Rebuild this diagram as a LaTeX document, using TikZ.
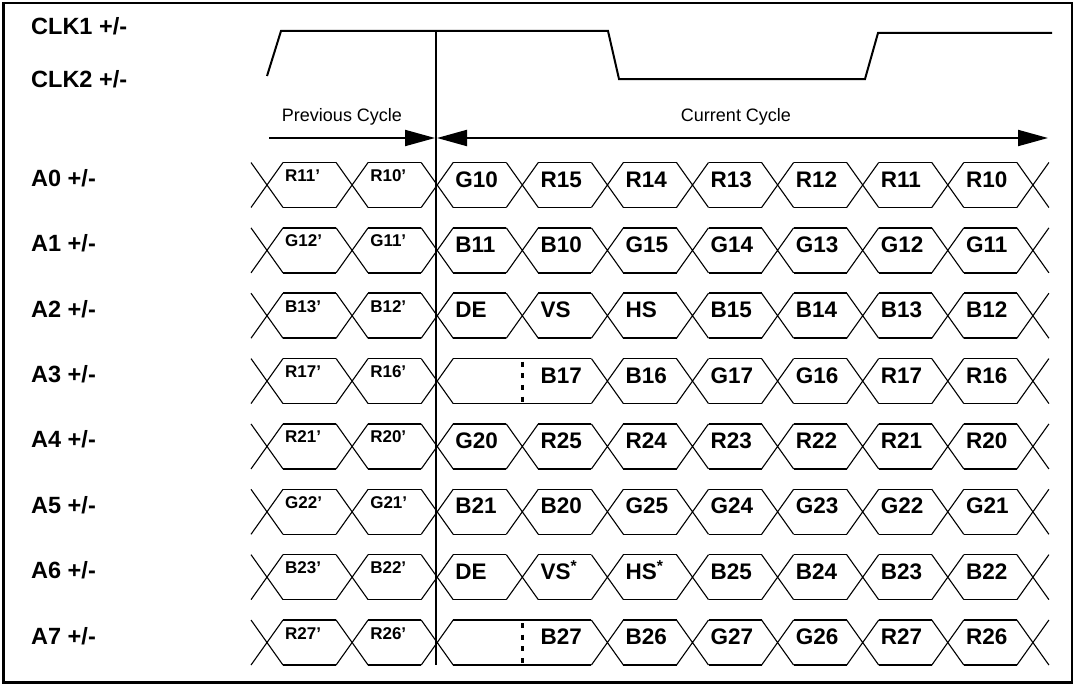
\documentclass[tikz,border=0pt]{standalone}
\usepackage{fontspec}
\setmainfont{Liberation Sans}
\usetikzlibrary{arrows.meta}
\begin{document}
\begin{tikzpicture}[x=1pt,y=-1pt,
  lbl/.style={font=\fontsize{23.5}{25}\selectfont\bfseries, inner sep=0pt, anchor=base west},
  big/.style={font=\fontsize{22.5}{24}\selectfont\bfseries, inner sep=0pt, anchor=base west},
  small/.style={font=\fontsize{17}{19}\selectfont\bfseries, inner sep=0pt, anchor=base west},
  cyc/.style={font=\fontsize{18}{20}\selectfont, inner sep=0pt, anchor=base},
  flat/.style={line width=1.6pt},
  cross/.style={line width=1.1pt},
  wave/.style={line width=2pt, line join=miter},
  dimline/.style={line width=2pt},
  dots/.style={line width=2.5pt, dash pattern=on 5pt off 6.7pt},
  tipa/.tip={Triangle[length=30pt,width=16pt]}
]
\useasboundingbox (0,0) rectangle (1076,685);
\draw[line width=2.2pt] (3.5,3) rectangle (1072,682.5);

% clock
\node[lbl] (clk1) at (31,35) {CLK1 +/-};
\node[lbl] (clk2) at (31,88) {CLK2 +/-};
\draw[wave] (267,76) -- (281,31) -- (608,31) -- (619,79) -- (865,79) -- (878,33) -- (1052,33);

% reference line
\coordinate (vtop) at (436,31);
\coordinate (vbot) at (436,665);
\draw[line width=1.1pt] (vtop) -- (vbot);

% cycle arrows
\coordinate (ps) at (269,138);
\coordinate (pe) at (435,138);
\coordinate (cs) at (437,138);
\coordinate (ce) at (1048,138);
\draw[dimline,-tipa] (ps) -- (pe);
\draw[dimline,tipa-tipa] (cs) -- (ce);
\node[cyc] (prev) at (342,121) {Previous Cycle};
\node[cyc] (cur) at (736,121) {Current Cycle};

% data rows
\foreach \i/\merge/\la/\lb/\lc/\ld/\le/\lf/\lg/\lh/\lj in {
  0/0/R11’/R10’/G10/R15/R14/R13/R12/R11/R10,
  1/0/G12’/G11’/B11/B10/G15/G14/G13/G12/G11,
  2/0/B13’/B12’/DE/VS/HS/B15/B14/B13/B12,
  3/1/R17’/R16’//B17/B16/G17/G16/R17/R16,
  4/0/R21’/R20’/G20/R25/R24/R23/R22/R21/R20,
  5/0/G22’/G21’/B21/B20/G25/G24/G23/G22/G21,
  6/0/B23’/B22’/DE/{VS\textsuperscript{*}}/{HS\textsuperscript{*}}/B25/B24/B23/B22,
  7/1/R27’/R26’//B27/B26/G27/G26/R27/R26} {
  \pgfmathsetmacro\cy{185+65.36*\i}
  \node[lbl] (lab\i) at (31,\cy+1.5) {A\i\ +/-};
  \foreach \k in {0,...,9} {
    \pgfmathtruncatemacro\skipit{\merge*(\k==3)}
    \pgfmathsetmacro\xk{267+85.1*\k}
    \ifnum\skipit=0
      \draw[cross] (\xk-16,\cy-22.5) -- (\xk+16,\cy+22.5)
                   (\xk-16,\cy+22.5) -- (\xk+16,\cy-22.5);
    \fi
  }
  \foreach \k in {0,...,8} {
    \pgfmathsetmacro\xa{267+85.1*\k+16}
    \pgfmathsetmacro\xb{267+85.1*(\k+1)-16}
    \draw[flat] (\xa,\cy-22.5) -- (\xb,\cy-22.5) (\xa,\cy+22.5) -- (\xb,\cy+22.5);
  }
  \ifnum\merge=1
    \pgfmathsetmacro\xm{267+85.1*3}
    \draw[flat] (\xm-17,\cy-22.5) -- (\xm+17,\cy-22.5) (\xm-17,\cy+22.5) -- (\xm+17,\cy+22.5);
    \draw[dots] (\xm,\cy-19.5) -- (\xm,\cy+22.5);
  \fi
  \foreach \t [count=\k from 0] in {\la,\lb,\lc,\ld,\le,\lf,\lg,\lh,\lj} {
    \pgfmathsetmacro\xt{267+85.1*\k+18}
    \ifnum\k<2
      \node[small] (c\i-\k) at (\xt,\cy-3.5) {\t};
    \else
      \node[big] (c\i-\k) at (\xt,\cy+2) {\t};
    \fi
  }
}
\end{tikzpicture}
\end{document}
